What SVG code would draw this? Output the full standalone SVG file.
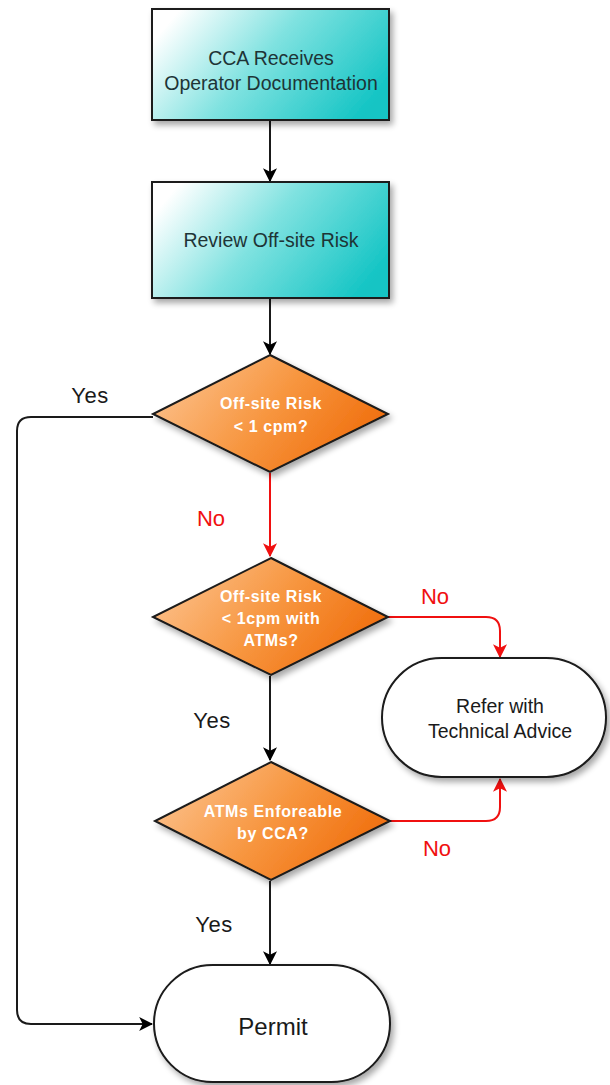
<svg xmlns="http://www.w3.org/2000/svg" width="610" height="1085" viewBox="0 0 610 1085">
  <defs>
    <linearGradient id="tealFill" x1="0" y1="0.3" x2="1" y2="0.7">
      <stop offset="0" stop-color="#ffffff"/>
      <stop offset="0.45" stop-color="#7fe2e0"/>
      <stop offset="1" stop-color="#12c4c4"/>
    </linearGradient>
    <linearGradient id="orangeFill" x1="0" y1="0.3" x2="1" y2="0.7">
      <stop offset="0" stop-color="#fcc08a"/>
      <stop offset="0.5" stop-color="#f7953e"/>
      <stop offset="1" stop-color="#ef6a08"/>
    </linearGradient>
    <filter id="shadow" x="-10%" y="-10%" width="125%" height="130%">
      <feGaussianBlur in="SourceAlpha" stdDeviation="3"/>
      <feOffset dx="3" dy="4" result="b"/>
      <feComponentTransfer><feFuncA type="linear" slope="0.35"/></feComponentTransfer>
      <feMerge><feMergeNode/><feMergeNode in="SourceGraphic"/></feMerge>
    </filter>
    <marker id="arrowBlack" viewBox="0 0 12 12" refX="11" refY="6" markerWidth="14" markerHeight="14" markerUnits="userSpaceOnUse" orient="auto">
      <path d="M0,0 L12,6 L0,12 L3,6 Z" fill="#000"/>
    </marker>
    <marker id="arrowRed" viewBox="0 0 12 12" refX="11" refY="6" markerWidth="14" markerHeight="14" markerUnits="userSpaceOnUse" orient="auto">
      <path d="M0,0 L12,6 L0,12 L3,6 Z" fill="#f01010"/>
    </marker>
    <style>
      .box { fill: url(#tealFill); stroke: #1a1a1a; stroke-width: 2; filter: url(#shadow); }
      .dia { fill: url(#orangeFill); stroke: #1a1a1a; stroke-width: 2; filter: url(#shadow); }
      .term { fill: #ffffff; stroke: #1a1a1a; stroke-width: 2; filter: url(#shadow); }
      .boxText { font-family: "Liberation Sans", Arial, sans-serif; font-size: 19.5px; fill: #1e3436; text-anchor: middle; }
      .diaText { font-family: "Liberation Sans", Arial, sans-serif; font-size: 16px; font-weight: bold; letter-spacing: 0.6px; fill: #ffffff; text-anchor: middle; }
      .termText { font-family: "Liberation Sans", Arial, sans-serif; font-size: 19.5px; fill: #1a1a1a; text-anchor: middle; }
      .lbl { font-family: "Liberation Sans", Arial, sans-serif; font-size: 22px; text-anchor: middle; }
      .yes { fill: #1a1a1a; letter-spacing: 0.5px; }
      .no { fill: #f01010; }
      .blk { fill: none; stroke: #1a1a1a; stroke-width: 2; marker-end: url(#arrowBlack); }
      .red { fill: none; stroke: #f01010; stroke-width: 2; marker-end: url(#arrowRed); }
    </style>
  </defs>

  <!-- connectors -->
  <g id="connectors">
    <path class="blk" d="M270,121 L270,181"/>
    <path class="blk" d="M270,299 L270,354"/>
    <path class="blk" d="M153,417 L31,417 Q17,417 17,431 L17,1010 Q17,1024 31,1024 L152,1024"/>
    <path class="red" d="M270,473 L270,556"/>
    <path class="red" d="M388,617 L486,617 Q500,617 500,631 L500,657"/>
    <path class="blk" d="M270,676 L270,760"/>
    <path class="red" d="M390,821 L486,821 Q500,821 500,807 L500,779"/>
    <path class="blk" d="M270,881 L270,964"/>
    <text class="lbl yes" x="90" y="403">Yes</text>
    <text class="lbl no" x="211" y="526">No</text>
    <text class="lbl no" x="435" y="604">No</text>
    <text class="lbl yes" x="212" y="728">Yes</text>
    <text class="lbl no" x="437" y="856">No</text>
    <text class="lbl yes" x="214" y="932">Yes</text>
  </g>

  <g id="receive">
    <rect class="box" x="152" y="9" width="237" height="111"/>
    <text class="boxText" x="271" y="65">CCA Receives</text>
    <text class="boxText" x="271" y="90">Operator Documentation</text>
  </g>

  <g id="review">
    <rect class="box" x="152" y="182" width="237" height="116"/>
    <text class="boxText" x="271" y="247">Review Off-site Risk</text>
  </g>

  <g id="decision1">
    <polygon class="dia" points="270,355 388,414 270,472 153,414"/>
    <text class="diaText" x="271" y="409">Off-site Risk</text>
    <text class="diaText" x="271" y="432">&lt; 1 cpm?</text>
  </g>

  <g id="decision2">
    <polygon class="dia" points="271,558 388,617 271,675 153,617"/>
    <text class="diaText" x="271" y="602">Off-site Risk</text>
    <text class="diaText" x="271" y="624">&lt; 1cpm with</text>
    <text class="diaText" x="271" y="646">ATMs?</text>
  </g>

  <g id="refer">
    <rect class="term" x="382" y="658" width="224" height="119" rx="59.5" ry="59.5"/>
    <text class="termText" x="500" y="713">Refer with</text>
    <text class="termText" x="500" y="738">Technical Advice</text>
  </g>

  <g id="decision3">
    <polygon class="dia" points="271,762 390,821 271,880 155,821"/>
    <text class="diaText" x="273" y="817">ATMs Enforeable</text>
    <text class="diaText" x="273" y="839">by CCA?</text>
  </g>

  <g id="permit">
    <rect class="term" x="154" y="965" width="236" height="117" rx="58.5" ry="58.5"/>
    <text class="termText" x="273" y="1035" style="font-size:24px">Permit</text>
  </g>
</svg>
